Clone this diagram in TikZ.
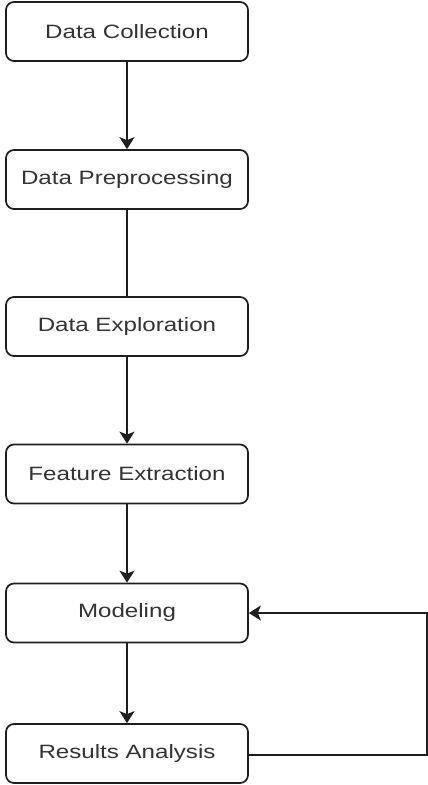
\documentclass[tikz,border=0pt]{standalone}
\usepackage{fontspec}
\setmainfont{Liberation Sans}[FakeStretch=1.25]
\usetikzlibrary{arrows.meta}
\definecolor{linec}{HTML}{1E1E1E}
\definecolor{textc}{HTML}{333333}
\tikzset{
  stepbox/.style={draw=linec, line width=1.7pt, rounded corners=8pt, fill=white,
    minimum width=242pt, minimum height=59pt, inner sep=0pt, text=textc,
    font=\fontsize{19.3pt}{22pt}\selectfont},
  conn/.style={draw=linec, line width=1.8pt},
  arr/.style={conn, -{Stealth[length=12pt,width=15pt,inset=3pt]}}
}
\begin{document}
\begin{tikzpicture}[x=1pt,y=1pt]
\useasboundingbox (0,0) rectangle (428,-785);
\node[stepbox] (b1) at (127,-31.5) {Data Collection};
\node[stepbox] (b2) at (127,-179.5) {Data Preprocessing};
\node[stepbox] (b3) at (127,-326.5) {Data Exploration};
\node[stepbox] (b4) at (127,-474) {Feature Extraction};
\node[stepbox] (b5) at (127,-613) {Modeling};
\node[stepbox] (b6) at (127,-753.5) {Results Analysis};
\coordinate (c1) at (427,-755);
\coordinate (c2) at (427,-613);
\draw[arr] (b1) -- (b2);
\draw[conn] (b2) -- (b3);
\draw[arr] (b3) -- (b4);
\draw[arr] (b4) -- (b5);
\draw[arr] (b5) -- (b6);
\draw[arr] (b6.east |- c1) -- (c1) -- (c2) -- (b5.east);
\end{tikzpicture}
\end{document}
